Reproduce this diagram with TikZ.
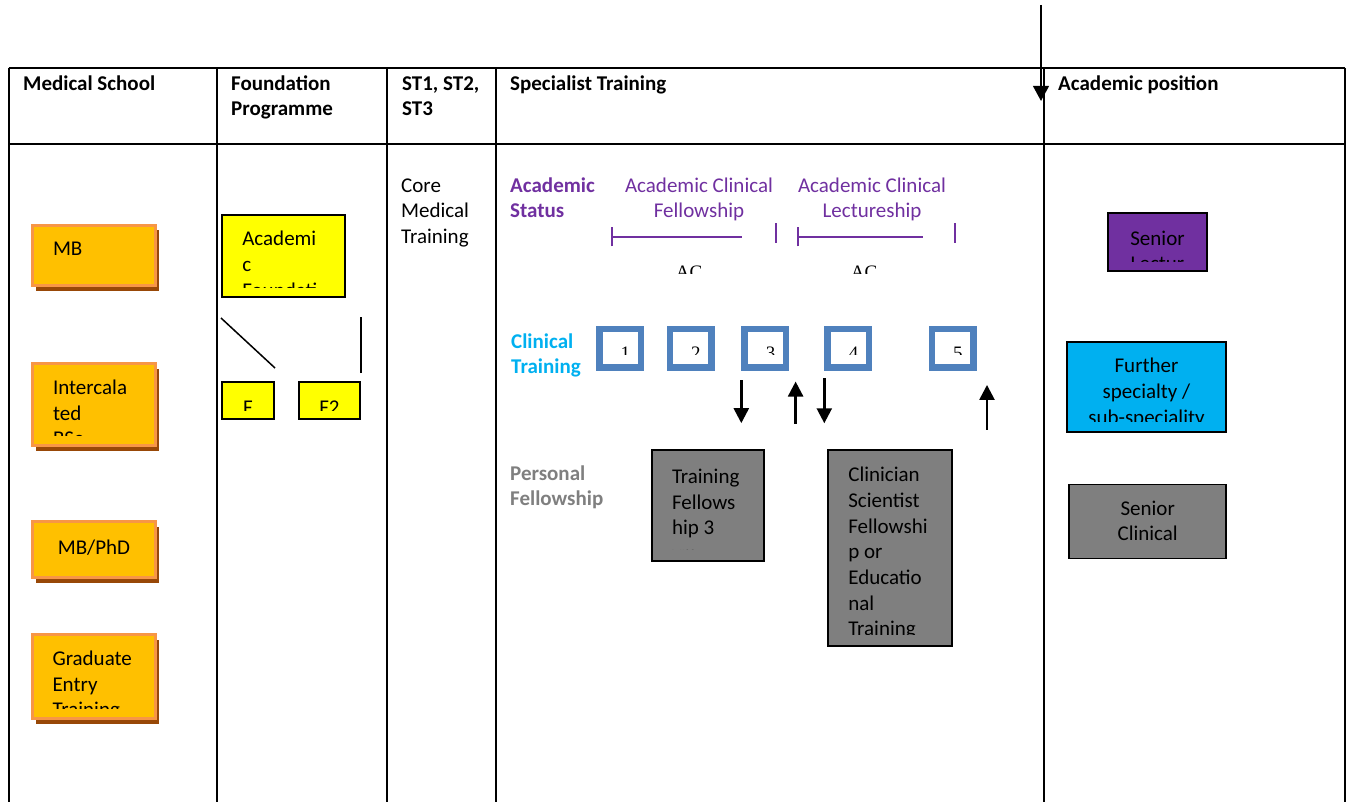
\documentclass[tikz,border=0pt]{standalone}
\usepackage{fontspec}
\setmainfont{Carlito}
\newfontfamily\timesfont{Liberation Serif}
\usepackage{trimclip}
\usetikzlibrary{arrows.meta,shadows}

\definecolor{mborange}{HTML}{FFC000}
\definecolor{mbborder}{HTML}{F79646}
\definecolor{mbshadow}{HTML}{984807}
\definecolor{fpyellow}{HTML}{FFFF00}
\definecolor{ctblue}{HTML}{4F81BD}
\definecolor{ctcyan}{HTML}{00B0F0}
\definecolor{acpurple}{HTML}{7030A0}
\definecolor{pfgray}{HTML}{7F7F7F}

% text box of fixed height, cut off at its bottom
\newcommand{\cliptext}[4][\raggedright]{\clipbox{0pt}{\parbox[t][#2pt][t]{#3pt}{#1\strut#4}}}
% one line, cut off #2pt above its baseline
\newcommand{\cutline}[4][\centering]{\clipbox{0pt}{\raisebox{-#2pt}[\dimexpr18pt-#2pt\relax][0pt]{\parbox[t]{#3pt}{#1\strut#4}}}}
\newcommand{\serifnum}{\timesfont\fontsize{19}{25.7}\selectfont}

\begin{document}
\begin{tikzpicture}[
	x=1pt, y=-1pt,
	font=\fontsize{21}{25.7}\selectfont,
	grid/.style={
		line width=2pt
	},
	txt/.style={
		anchor=north west,
		inner sep=0pt,
		yshift=18pt,
		align=left
	},
	head/.style={
		txt,
		font=\fontsize{21}{25.7}\selectfont\bfseries
	},
	msbox/.style={
		rectangle,
		draw=mbborder,
		line width=3pt,
		fill=mborange,
		inner sep=0pt,
		minimum width=123pt,
		drop shadow={shadow xshift=3.5pt, shadow yshift=-5pt, fill=mbshadow, opacity=1}
	},
	fpbox/.style={
		rectangle,
		draw=black,
		line width=2pt,
		fill=fpyellow,
		inner sep=0pt
	},
	ctbox/.style={
		rectangle,
		draw=ctblue,
		line width=6.5pt,
		fill=white,
		inner sep=0pt,
		minimum width=41.5pt,
		minimum height=38.8pt,
		text height=12pt,
		text depth=0pt
	},
	pfbox/.style={
		rectangle,
		draw=black,
		line width=1.5pt,
		fill=pfgray,
		inner sep=0pt,
		text height=0pt
	},
	apbox/.style={
		rectangle,
		draw=black,
		line width=1.5pt,
		inner sep=0pt
	},
	tick/.style={
		draw=acpurple,
		line width=2pt
	},
	span/.style={
		tick,
		{Bar[width=19.4pt]}-
	},
	link/.style={
		line width=1.5pt
	},
	move/.style={
		line width=2.5pt,
		-{Triangle[width=15pt,length=15pt]}
	},
]
\useasboundingbox (0,0) rectangle (1348,802);

% table
\draw[grid] (8.5,68) -- (1345,68);
\draw[grid] (8.5,144) -- (1345,144);
\foreach \x in {8.5,217,387,496,1044,1345}
	\draw[grid] (\x,68) -- (\x,802);

\node[head] (hms) at (23,90) {\strut Medical School};
\node[head] (hfp) at (231,90) {\strut Foundation\\Programme};
\node[head] (hst) at (402,90) {\strut ST1, ST2,\\ST3};
\node[head] (hsp) at (510,90) {\strut Specialist Training};
\node[head] (hap) at (1058,90) {\strut Academic position};

\coordinate (drop) at (1041,5);
\coordinate (dropend) at (1041,101);
\draw[line width=2pt, -{Triangle[width=15.7pt,length=15pt]}] (drop) -- (dropend);

% medical school
\node[msbox, minimum height=60pt, text height=0pt, text depth=0pt] (mb) at (94,255.5) {\cliptext{30}{82}{MB}};
\node[msbox, minimum height=82pt, text height=0pt, text depth=20.4pt] (ibsc) at (94,404.5) {\cliptext{58.7}{82}{Intercala\\ted\\BSc}};
\node[msbox, minimum height=56pt, text height=9pt, text depth=0pt] (mbphd) at (94,549.5) {\cliptext[\centering]{30}{110}{MB/PhD}};
\node[msbox, minimum height=84pt, text height=0pt, text depth=22pt] (get) at (93.5,676.5) {\cliptext{60.5}{82}{Graduate\\Entry\\Training}};

% foundation programme
\node[fpbox, minimum width=123pt, minimum height=82pt, text height=0pt, text depth=20pt] (af) at (283.5,256) {\cliptext{59.5}{82.4}{Academi\\c\\Foundati}};
\node[fpbox, minimum width=52pt, minimum height=37pt, text height=19pt, text depth=0pt] (f1) at (248,400.5) {\cutline{4}{40}{F}};
\node[fpbox, minimum width=61pt, minimum height=37pt, text height=19pt, text depth=0pt] (f2) at (329.5,400.5) {\cutline{4}{50}{F2}};
\draw[link] ([yshift=-20pt]af.south west) -- ([yshift=13pt]f1.north east);
\draw[link] ([yshift=8pt]f2.north east) -- ([yshift=64pt]f2.north east);

% core training
\node[txt] (cmt) at (401,192) {\strut Core\\Medical\\Training};

% specialist training
\node[head, text=acpurple] (as) at (510,192) {\strut Academic\\Status};
\node[txt, anchor=north, align=center, text=acpurple] (acf) at (699,192) {\strut Academic Clinical\\Fellowship};
\node[txt, anchor=north, align=center, text=acpurple] (acl) at (872,192) {\strut Academic Clinical\\Lectureship};
\draw[span] (611,236.7) -- (742.3,236.7);
\draw[tick] (775.5,223.3) -- (775.5,242.7);
\draw[span] (797,236.7) -- (923.3,236.7);
\draw[tick] (955.3,223.3) -- (955.3,242.7);
\node[txt, anchor=north] (acfs) at (689,278.4) {\cutline{5.1}{40}{\serifnum AC}};
\node[txt, anchor=north] (acls) at (864,278.4) {\cutline{5.1}{40}{\serifnum AC}};

\node[head, text=ctcyan] (ct) at (511,348) {\strut Clinical\\Training};
\node[ctbox] (ct1) at (620.2,348.3) {\cutline[\raggedleft]{5.2}{20}{\serifnum 1}};
\node[ctbox] (ct2) at (690.7,348.3) {\cutline[\raggedleft]{5.2}{20}{\serifnum 2}};
\node[ctbox] (ct3) at (765.3,348.3) {\cutline[\raggedleft]{5.2}{20}{\serifnum 3}};
\node[ctbox] (ct4) at (848.3,348.3) {\cutline[\raggedleft]{5.2}{20}{\serifnum 4}};
\node[ctbox] (ct5) at (952.5,348.3) {\cutline[\raggedleft]{5.2}{20}{\serifnum 5}};
\draw[move] ([yshift=-9.5pt]ct3.south west) -- ++(0,42.7);
\draw[move] ([xshift=6.3pt,yshift=-53pt]ct3.south east) -- ++(0,-42.4);
\draw[move] ([yshift=-7.3pt]ct4.south west) -- ++(0,45);
\draw[move] ([xshift=10.5pt,yshift=-59pt]ct5.south east) -- ++(0,-45);

\node[head, text=pfgray] (pf) at (510,480) {\strut Personal\\Fellowship};
\node[pfbox, minimum width=112pt, minimum height=111pt, text depth=44.4pt] (tf) at (708,505.5) {\cliptext{84.2}{72}{Training\\Fellows\\hip 3\\yrs}};
\node[pfbox, minimum width=124pt, minimum height=196pt, text depth=132.6pt] (csf) at (890,548) {\cliptext{170.3}{83.4}{Clinician\\Scientist\\Fellowshi\\p or\\Educatio\\nal\\Training}};

% academic position
\node[apbox, fill=acpurple, minimum width=99pt, minimum height=58pt, text height=6pt, text depth=0pt] (sl) at (1157.5,242) {\cliptext[\centering]{34}{90}{Senior\\Lectur}};
\node[apbox, fill=ctcyan, minimum width=159pt, minimum height=90pt, text height=0pt, text depth=28.6pt] (fs) at (1146.5,387) {\cliptext[\centering]{67}{150}{Further\\specialty /\\sub-speciality}};
\node[apbox, fill=pfgray, minimum width=157pt, minimum height=74pt, text height=0pt, text depth=12.6pt] (sc) at (1147.7,521.3) {\cliptext[\centering]{60}{150}{Senior\\Clinical}};

\end{tikzpicture}
\end{document}
